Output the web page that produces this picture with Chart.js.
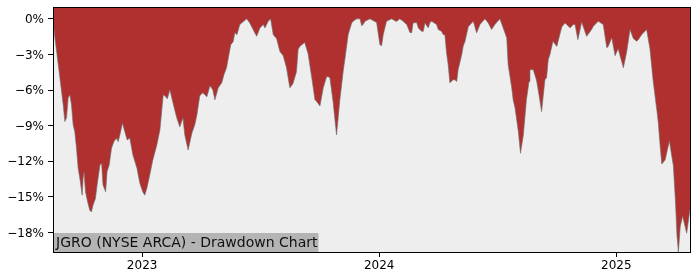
<!DOCTYPE html>
<html>
<head>
<meta charset="utf-8">
<script src="https://cdn.jsdelivr.net/npm/chart.js@4"></script>
<style>
html,body{margin:0;padding:0;background:#fff;}
#wrap{width:700px;height:280px;}
</style>
</head>
<body>
<div id="wrap"><canvas id="c" width="700" height="280"></canvas></div>
<script>
// Dates as decimal years
const xYears = [
2022.624,2022.632,2022.641,2022.653,2022.667,2022.674,2022.681,2022.688,2022.695,2022.702,
2022.709,2022.716,2022.723,2022.730,2022.737,2022.747,2022.751,2022.755,2022.761,2022.770,
2022.779,2022.786,2022.793,2022.803,2022.810,2022.822,2022.829,2022.835,2022.846,2022.852,
2022.861,2022.871,2022.881,2022.892,2022.899,2022.906,2022.917,2022.927,2022.937,2022.948,
2022.961,2022.978,2022.990,2023.003,2023.011,2023.020,2023.032,2023.045,2023.062,2023.075,
2023.089,2023.100,2023.106,2023.117,2023.130,2023.146,2023.159,2023.172,2023.180,2023.194,
2023.210,2023.222,2023.231,2023.243,2023.256,2023.273,2023.286,2023.298,2023.307,2023.321,
2023.336,2023.345,2023.356,2023.366,2023.374,2023.384,2023.391,2023.400,2023.412,2023.441,
2023.454,2023.468,2023.483,2023.497,2023.511,2023.518,2023.532,2023.542,2023.553,2023.567,
2023.581,2023.595,2023.609,2023.623,2023.636,2023.651,2023.658,2023.665,2023.679,2023.686,
2023.700,2023.715,2023.729,2023.736,2023.750,2023.764,2023.778,2023.785,2023.792,2023.806,
2023.820,2023.834,2023.848,2023.855,2023.869,2023.884,2023.890,2023.905,2023.919,2023.926,
2023.932,2023.940,2023.961,2023.989,2024.003,2024.010,2024.017,2024.024,2024.031,2024.052,
2024.073,2024.087,2024.101,2024.116,2024.130,2024.137,2024.143,2024.158,2024.165,2024.179,
2024.186,2024.193,2024.207,2024.214,2024.221,2024.242,2024.249,2024.263,2024.270,2024.277,
2024.284,2024.291,2024.298,2024.312,2024.319,2024.327,2024.333,2024.348,2024.354,2024.362,
2024.376,2024.397,2024.411,2024.425,2024.446,2024.460,2024.474,2024.488,2024.509,2024.523,
2024.538,2024.544,2024.559,2024.565,2024.573,2024.587,2024.596,2024.608,2024.621,2024.632,
2024.636,2024.650,2024.664,2024.674,2024.685,2024.699,2024.706,2024.713,2024.720,2024.733,
2024.749,2024.770,2024.784,2024.791,2024.805,2024.819,2024.826,2024.838,2024.854,2024.875,
2024.896,2024.903,2024.924,2024.945,2024.960,2024.966,2024.981,2024.995,2025.008,2025.030,
2025.044,2025.058,2025.072,2025.086,2025.093,2025.107,2025.128,2025.142,2025.156,2025.171,
2025.177,2025.184,2025.192,2025.206,2025.224,2025.241,2025.250,2025.256,2025.262,2025.270,
2025.280,2025.297,2025.311
];
// Drawdown in percent
const drawdown = [
0,-1.61,-3.02,-4.96,-7.24,-8.65,-8.34,-6.65,-6.40,-7.24,
-8.93,-9.50,-10.88,-12.57,-13.41,-14.85,-13.41,-12.88,-14.57,-15.41,
-16.12,-16.26,-15.69,-15.13,-14.00,-12.31,-12.17,-14.00,-14.57,-12.88,
-12.31,-10.88,-10.34,-10.06,-10.34,-9.78,-8.79,-9.50,-10.20,-10.03,
-11.47,-12.57,-13.83,-14.59,-14.85,-14.26,-13.16,-11.88,-10.62,-9.36,
-6.40,-6.57,-6.74,-5.97,-7.07,-8.34,-9.10,-8.34,-9.78,-11.05,
-9.61,-8.93,-8.09,-6.48,-6.23,-6.57,-5.64,-5.97,-6.82,-5.81,
-5.38,-4.71,-4.12,-3.02,-2.17,-1.92,-1.16,-1.33,-0.48,0,
-0.34,-0.90,-1.47,-0.76,-0.48,-0.76,-0.20,0,-1.33,-1.66,
-2.74,-3.10,-4.12,-5.81,-5.47,-4.45,-2.59,-2.32,-2.09,-2.00,
-2.93,-4.88,-6.82,-6.96,-7.33,-5.81,-4.88,-4.88,-4.96,-7.07,
-9.78,-6.82,-4.43,-3.44,-1.33,-0.34,-0.20,0,0,-0.57,
-0.48,-0.20,0,-0.31,-2.17,-2.26,-1.33,-0.74,-0.20,0,
-0.23,0,-0.20,-0.48,-1.16,-1.16,-0.34,-0.31,-0.76,-1.05,
-1.05,-0.34,-0.76,-0.31,-0.20,-0.48,-0.90,-1.05,-1.33,-1.33,
-2.85,-3.86,-5.38,-5.13,-5.13,-5.27,-4.28,-3.02,-2.32,-1.89,
-0.65,-0.20,-1.18,-0.48,0,-0.34,-0.90,-0.48,0,-0.76,
-1.61,-3.86,-5.81,-6.82,-7.50,-9.50,-11.32,-9.78,-6.82,-5.27,
-4.28,-4.28,-5.21,-6.40,-7.81,-5.13,-4.96,-3.44,-3.02,-1.89,
-2.32,-0.69,-0.34,-0.48,-0.76,-0.48,-0.48,-1.75,-0.27,-1.47,
-0.90,-0.63,-0.20,-0.48,-2.43,-2.32,-1.58,-3.10,-2.51,-4.12,
-2.76,-0.90,-1.66,-1.89,-1.75,-1.33,-0.90,-2.51,-5.30,-7.67,
-8.68,-10.48,-12.23,-11.89,-10.28,-12.40,-15.52,-18.23,-19.64,-17.47,
-16.62,-18.06,-16.03
];
const yTickValues = [0,-3,-6,-9,-12,-15,-18];
const xTickYears = [2023,2024,2025];
const titleText = 'JGRO (NYSE ARCA) - Drawdown Chart';

const points = xYears.map((x,i)=>({x:x, y:drawdown[i]}));
const yMin = Math.min(...drawdown);

const FONT = "'DejaVu Sans', sans-serif";

const decor = {
  id:'decor',
  beforeDraw(chart){
    const {ctx, chartArea:a} = chart;
    ctx.save();
    ctx.fillStyle = '#eeeeee';
    ctx.fillRect(a.left, a.top, a.right-a.left, a.bottom-a.top);
    ctx.restore();
  },
  afterDatasetsDraw(chart){
    const {ctx, chartArea:a} = chart;
    ctx.save();
    ctx.font = "14px " + FONT;
    const w = ctx.measureText(titleText).width;
    ctx.fillStyle = '#b4b4b4';
    ctx.fillRect(a.left, a.bottom-19, w+4, 19);
    ctx.fillStyle = '#111';
    ctx.textBaseline = 'middle';
    ctx.textAlign = 'left';
    ctx.fillText(titleText, a.left+3, a.bottom-9);
    ctx.strokeStyle = '#000';
    ctx.lineWidth = 1;
    ctx.strokeRect(Math.round(a.left)+0.5, Math.round(a.top)+0.5, Math.round(a.right-a.left), Math.round(a.bottom-a.top));
    ctx.restore();
  }
};

new Chart(document.getElementById('c'), {
  type:'line',
  data:{datasets:[{
    data:points,
    fill:'end',
    backgroundColor:'#b03030',
    borderColor:'rgba(110,110,110,0.8)',
    borderWidth:0.8,
    pointRadius:0,
    tension:0
  }]},
  options:{
    responsive:false,
    animation:false,
    layout:{padding:{top:7,right:10,left:0,bottom:0}},
    plugins:{legend:{display:false},tooltip:{enabled:false}},
    scales:{
      x:{
        type:'linear',
        min:xYears[0], max:xYears[xYears.length-1],
        afterBuildTicks(s){ s.ticks = xTickYears.map(v=>({value:v})); },
        afterFit(s){ s.height = 28; s.paddingLeft = 0; s.paddingRight = 0; },
        grid:{display:true, drawOnChartArea:false, drawTicks:true, tickLength:5, color:'#000'},
        border:{display:true,color:'#000'},
        ticks:{color:'#000', font:{family:FONT,size:12}, padding:2, maxRotation:0,
          callback:(v)=>String(v)}
      },
      y:{
        min:yMin, max:1.0,
        afterBuildTicks(s){ s.ticks = yTickValues.map(v=>({value:v})); },
        afterFit(s){ s.width = 53; s.paddingTop = 0; s.paddingBottom = 0; },
        grid:{display:true, drawOnChartArea:false, drawTicks:true, tickLength:5, color:'#000'},
        border:{display:true,color:'#000'},
        ticks:{color:'#000', font:{family:FONT,size:12}, padding:4, labelOffset:1,
          callback:(v)=> v===0 ? '0%' : '\u2212'+Math.abs(v)+'%'}
      }
    }
  },
  plugins:[decor]
});
</script>
</body>
</html>
